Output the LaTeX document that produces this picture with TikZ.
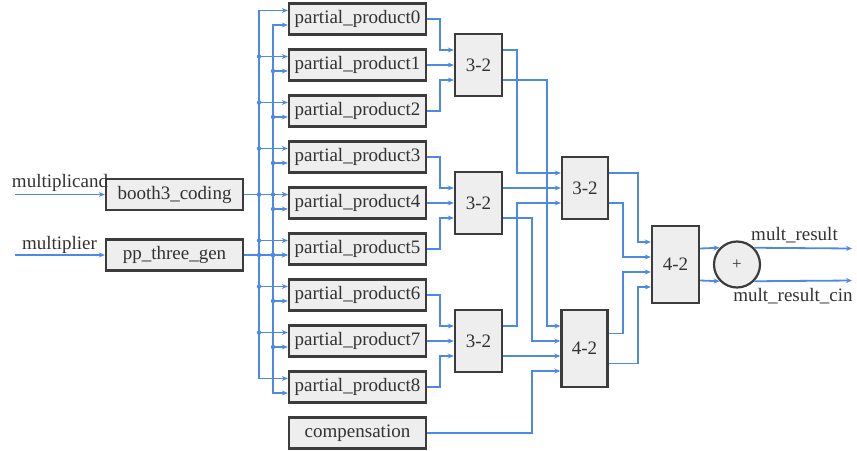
\documentclass[tikz,border=0pt]{standalone}
\usepackage{fontspec}
\setmainfont{Liberation Serif}
\usetikzlibrary{arrows.meta,calc}
\definecolor{wirec}{RGB}{77,138,230}
\definecolor{boxfill}{RGB}{238,238,238}
\definecolor{boxline}{RGB}{60,60,60}
\definecolor{txt}{RGB}{50,50,50}
\begin{document}
\begin{tikzpicture}[x=1pt,y=-1pt,
  blk/.style={draw=boxline,line width=2.4pt,fill=boxfill,inner sep=0pt,text=txt,font=\fontsize{19}{22}\selectfont},
  ppbox/.style={blk,minimum width=137pt,minimum height=31pt},
  cbox/.style={blk,minimum width=47pt,minimum height=62pt},
  fourbox/.style={blk,minimum width=46pt,minimum height=77pt},
  wireln/.style={draw=wirec,line width=1.8pt},
  arr/.style={wireln,-{Stealth[length=6pt,width=5pt]}},
  lbl/.style={text=txt,font=\fontsize{19}{22}\selectfont,inner sep=0pt},
  jdot/.style={circle,fill=wirec,inner sep=0pt,minimum size=4.5pt}
]
\useasboundingbox (0,0) rectangle (857,450);

% input blocks
\node[ppbox] (booth) at (174.5,194.5) {booth3\_coding};
\node[ppbox] (ppgen) at (174.5,255) {pp\_three\_gen};
\node[lbl] (lmc) at (60,183) {multiplicand};
\node[lbl] (lmp) at (59.5,245) {multiplier};
\coordinate (inA) at (15,194.5);
\coordinate (inB) at (15,255);
\draw[arr] (inA) -- (booth.west);
\draw[arr] (inB) -- (ppgen.west);

% partial products
\foreach \i in {0,...,8}{
  \node[ppbox] (pp\i) at (357.5,{19+46*\i}) {partial\_product\i};
  \coordinate (pp\i-a) at ($(pp\i.west)+(0,-8.5)$);
  \coordinate (pp\i-b) at ($(pp\i.west)+(0,6)$);
}
\node[ppbox] (comp) at (357.5,433) {compensation};

% buses
\coordinate (busL) at (259,0);
\coordinate (busR) at (273,0);
\draw[arr] (busL |- pp4-a) -- (busL |- pp0-a) -- (pp0-a);
\draw[arr] (busL |- pp4-a) -- (busL |- pp8-a) -- (pp8-a);
\draw[arr] (busR |- pp4-b) -- (busR |- pp0-b) -- (pp0-b);
\draw[arr] (busR |- pp4-b) -- (busR |- pp8-b) -- (pp8-b);
\foreach \i in {1,...,7}{
  \draw[arr] (busL |- pp\i-a) -- (pp\i-a);
  \draw[arr] (busR |- pp\i-b) -- (pp\i-b);
  \node[jdot] at (busL |- pp\i-a) {};
  \node[jdot] at (busR |- pp\i-b) {};
}
\draw[arr] (booth.east) -- (pp4-a);
\draw[arr] (ppgen.east) -- (pp5-b);
\node[jdot] at (busL |- booth.east) {};
\node[jdot] at (busR |- booth.east) {};
\node[jdot] at (busL |- ppgen.east) {};
\node[jdot] at (busR |- ppgen.east) {};

% 3-2 compressors, first level
\foreach \k/\y in {1/65,2/203,3/341}{
  \node[cbox] (c\k) at (478.5,\y) {3-2};
  \coordinate (c\k-a) at ($(c\k.west)+(0,-15)$);
  \coordinate (c\k-c) at ($(c\k.west)+(0,15)$);
  \coordinate (c\k-o1) at ($(c\k.east)+(0,-15)$);
  \coordinate (c\k-o2) at ($(c\k.east)+(0,15)$);
}
\coordinate (xa) at (440,0);
\foreach \k/\p/\q/\r in {1/0/1/2,2/3/4/5,3/6/7/8}{
  \draw[arr] (pp\p.east) -- (xa |- pp\p.east) -- (xa |- c\k-a) -- (c\k-a);
  \draw[arr] (pp\q.east) -- (c\k.west);
  \draw[arr] (pp\r.east) -- (xa |- pp\r.east) -- (xa |- c\k-c) -- (c\k-c);
}

% second level
\node[cbox,minimum width=46pt] (c4) at (585,188) {3-2};
\coordinate (c4-a) at ($(c4.west)+(0,-15)$);
\coordinate (c4-c) at ($(c4.west)+(0,15)$);
\coordinate (c4-o1) at ($(c4.east)+(0,-15)$);
\coordinate (c4-o2) at ($(c4.east)+(0,15)$);
\node[fourbox] (d2) at (584.5,348.5) {4-2};
\coordinate (d2-a) at ($(d2.west)+(0,-22.5)$);
\coordinate (d2-b) at ($(d2.west)+(0,-7.5)$);
\coordinate (d2-c) at ($(d2.west)+(0,7.5)$);
\coordinate (d2-d) at ($(d2.west)+(0,22.5)$);
\coordinate (d2-o1) at ($(d2.east)+(0,-15)$);
\coordinate (d2-o2) at ($(d2.east)+(0,15)$);

\coordinate (xb) at (517,0);
\coordinate (xc) at (532,0);
\coordinate (xd) at (547,0);
\draw[arr] (c1-o1) -- (xb |- c1-o1) -- (xb |- c4-a) -- (c4-a);
\draw[arr] (c1-o2) -- (xd |- c1-o2) -- (xd |- d2-a) -- (d2-a);
\draw[arr] (c2-o1) -- (c4.west);
\draw[arr] (c2-o2) -- (xc |- c2-o2) -- (xc |- d2-b) -- (d2-b);
\draw[arr] (c3-o1) -- (xb |- c3-o1) -- (xb |- c4-c) -- (c4-c);
\draw[arr] (c3-o2) -- (d2-c);
\draw[arr] (comp.east) -- (xc |- comp.east) -- (xc |- d2-d) -- (d2-d);

% final 4-2
\node[fourbox,minimum width=47pt] (e) at (675.5,264.5) {4-2};
\coordinate (e-a) at ($(e.west)+(0,-22.5)$);
\coordinate (e-b) at ($(e.west)+(0,-7.5)$);
\coordinate (e-c) at ($(e.west)+(0,7.5)$);
\coordinate (e-d) at ($(e.west)+(0,22.5)$);
\coordinate (e-o1) at ($(e.east)+(0,-16)$);
\coordinate (e-o2) at ($(e.east)+(0,16)$);
\coordinate (xe) at (623,0);
\coordinate (xf) at (638,0);
\draw[arr] (c4-o1) -- (xf |- c4-o1) -- (xf |- e-a) -- (e-a);
\draw[arr] (c4-o2) -- (xe |- c4-o2) -- (xe |- e-b) -- (e-b);
\draw[arr] (d2-o1) -- (xe |- d2-o1) -- (xe |- e-c) -- (e-c);
\draw[arr] (d2-o2) -- (xf |- d2-o2) -- (xf |- e-d) -- (e-d);

% adder
\node[circle,draw=boxline,line width=2.2pt,fill=boxfill,minimum size=46pt,inner sep=0pt,text=txt,font=\fontsize{17}{20}\selectfont] (add) at (737,264.5) {+};
\draw[arr] (e-o1) -- (add.136);
\draw[arr] (e-o2) -- (add.-136);
\coordinate (r1) at (852,248.5);
\coordinate (r2) at (852,280.5);
\draw[arr] (add.44) -- (r1);
\draw[arr] (add.-44) -- (r2);
\node[lbl] (l1) at (794.5,235) {mult\_result};
\node[lbl] (l2) at (793,296) {mult\_result\_cin};
\end{tikzpicture}
\end{document}
